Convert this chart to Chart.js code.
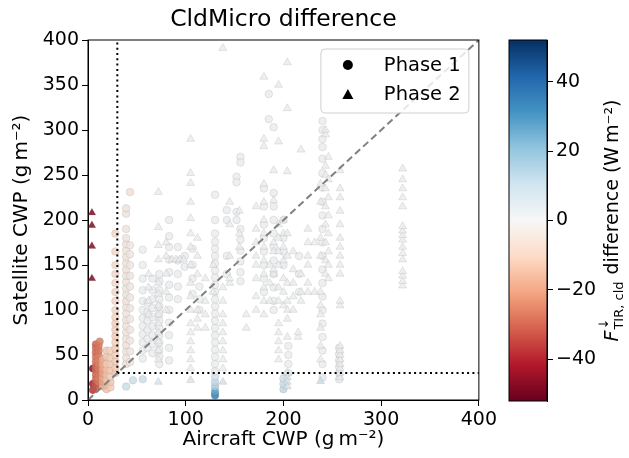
<!DOCTYPE html>
<html>
<head>
<meta charset="utf-8">
<script src="https://cdn.jsdelivr.net/npm/chart.js@4.4.1/dist/chart.umd.min.js"></script>
<style>
  body { margin: 0; background: #fff; }
  #wrap { position: relative; width: 629px; height: 458px; }
  canvas { position: absolute; top: 0; }
</style>
</head>
<body>
<div id="wrap">
  <canvas id="main" width="500" height="458" style="left:0"></canvas>
  <canvas id="cbar" width="139" height="458" style="left:490px"></canvas>
</div>
<script>
// [aircraft CWP, satellite CWP, flux difference]
const phase1 = [
  [5,35,-46],[5,18,-42],[5,11,-38],
  [8,13,-33],[8,18,-32],[8,23,-30],[8,28,-30],[8,33,-29],[8,38,-29],[8,43,-28],[8,48,-28],[8,53,-30],[8,58,-29],[8,62,-30],
  [11,20,-27],[11,25,-26],[11,30,-27],[11,35,-27],[11,40,-26],[11,45,-25],[11,50,-26],[11,55,-27],[11,60,-27],[12,65,-26],
  [15,15,-20],[15,20,-20],[15,25,-19],[15,30,-20],[15,35,-19],[15,40,-18],[15,45,-18],
  [19,12,-14],[19,17,-15],[19,22,-13],[19,28,-14],[19,34,-14],[19,40,-12],[19,48,-13],[19,55,-13],
  [23,14,-12],[23,20,-13],[23,26,-11],[23,33,-12],[23,40,-12],[23,47,-11],[23,55,-10],
  [28,30,-13],[28,36,-12],[28,43,-12],[28,50,-11],[28,57,-12],[28,64,-11],[28,71,-12],[28,78,-11],[28,85,-11],[28,92,-10],
  [28,100,-9],[28,110,-9],[28,120,-9],[28,130,-8],[28,140,-8],[28,150,-8],[28,165,-9],[28,185,-9],
  [39,15,10],[39,40,-5],[39,47,-5],[39,54,-4],[39,61,-5],[39,68,-4],[39,75,-5],[39,82,-4],[39,89,-5],[39,96,-4],[39,103,-4],
  [39,110,-5],[39,117,-4],[39,124,-4],[39,131,-4],[39,138,-4],[39,145,-5],[39,152,-4],[39,159,-5],[39,166,-4],[39,173,-4],
  [39,180,-4],[39,190,-4],[39,207,-4],[39,213,-4],
  [43,231,-5],[43,42,-3],[43,54,-3],[43,66,-3],[43,78,-3],[43,90,-3],[43,102,-3],[43,114,-3],[43,126,-3],[43,138,-3],[43,150,-3],[43,162,-3],[43,172,-3],
  [46,22,9],
  [56,23,9],[56,46,0.5],[56,55,0.5],[56,64,0.5],[56,73,0.5],[56,82,0.5],[56,91,0.5],[56,100,0.5],[56,110,0.5],[56,122,0.5],[56,135,0.5],[56,150,0.5],[56,167,0.5],
  [61,58,0.5],[61,68,0.5],[61,78,0.5],[61,88,0.5],[61,98,0.5],[61,108,0.5],
  [66,52,0.5],[66,62,0.5],[66,72,0.5],[66,82,0.5],[66,92,0.5],[66,102,0.5],[66,112,0.5],[66,122,0.5],[66,135,0.5],
  [73,40,0.5],[73,48,0.5],[73,56,0.5],[73,64,0.5],[73,72,0.5],[73,80,0.5],[73,88,0.5],[73,96,0.5],[73,104,0.5],[73,112,0.5],[73,122,0.5],[73,132,0.5],[73,140,0.5],
  [83,44,0.5],[83,58,0.5],[83,72,0.5],[83,86,0.5],[83,100,0.5],[83,114,0.5],[83,128,0.5],[83,142,0.5],[83,156,0.5],[83,170,0.5],[83,182,0.5],[83,200,0.5],
  [92,112,0.5],[92,126,0.5],[92,140,0.5],[92,155,0.5],[92,170,0.5],
  [99,148,0.5],[99,160,0.5],
  [107,118,0.5],[107,135,0.5],[107,150,0.5],[107,168,0.5],
  [114,100,0.5],[114,112,0.5],[114,126,0.5],
  [130,5,33],[130,7,30],[130,10,26],[130,15,16],[130,20,12],[130,26,8],[130,32,2],[130,40,0.5],[130,48,0.5],[130,56,0.5],[130,64,0.5],
  [130,72,0.5],[130,80,0.5],[130,88,0.5],[130,96,0.5],[130,104,0.5],[130,112,0.5],[130,120,0.5],[130,128,0.5],[130,136,0.5],[130,144,0.5],
  [130,152,0.5],[130,160,0.5],[130,168,0.5],[130,176,0.5],[130,185,0.5],[130,200,0.5],[130,228,0.5],
  [142,211,0.5],[142,200,0.5],[142,160,0.5],[142,140,0.5],
  [152,248,0.5],[152,242,0.5],[152,209,0.5],[152,200,0.5],
  [156,270,0.5],[156,264,0.5],[156,190,0.5],[156,178,0.5],[156,166,0.5],[156,154,0.5],[156,142,0.5],[156,132,0.5],
  [180,120,0.5],[180,135,0.5],[180,150,0.5],[180,165,0.5],[180,180,0.5],[180,195,0.5],[180,215,0.5],[180,235,0.5],
  [185,340,0.5],[185,312,0.5],
  [190,303,0.5],[190,230,0.5],[190,215,0.5],[190,200,0.5],[190,185,0.5],[190,170,0.5],[190,155,0.5],[190,140,0.5],[190,125,0.5],[190,110,0.5],[190,100,0.5],
  [200,12,12],[200,18,10],[200,24,8],[200,150,0.5],[200,165,0.5],[200,180,0.5],[200,200,0.5],
  [205,30,2],[205,40,0.5],[205,50,0.5],[205,60,0.5],
  [216,120,0.5],[216,140,0.5],[216,160,0.5],
  [240,310,0.5],[240,300,0.5],[240,290,0.5],[240,281,0.5],[240,268,0.5],[240,252,0.5],[240,236,0.5],[240,220,0.5],[240,205,0.5],[240,190,0.5],
  [240,175,0.5],[240,160,0.5],[240,145,0.5],[240,130,0.5],[240,115,0.5],[240,100,0.5],[240,85,0.5],[240,70,0.5],[240,55,0.5],[240,40,0.5],[240,25,2],
  [257,23,2],[257,30,0.5],[257,37,0.5],[257,44,0.5],[257,51,0.5],[257,58,0.5]
];

const phase2 = [
  [4,208,-48],[4,194,-48],[4,171,-47],[4,135,-48],
  [62,95,0.5],[62,110,0.5],[62,125,0.5],[62,140,0.5],
  [72,231,0.5],[72,192,0.5],[72,172,0.5],[72,156,0.5],[72,130,0.5],[72,118,0.5],[72,105,0.5],[72,95,0.5],[72,85,0.5],[72,75,0.5],[72,65,0.5],[72,55,0.5],[72,45,0.5],[72,20,6],
  [80,100,0.5],[80,120,0.5],[80,140,0.5],[80,160,0.5],[80,175,0.5],
  [86,156,0.5],[90,156,0.5],[94,156,0.5],[98,156,0.5],
  [105,290,0.5],[105,252,0.5],[105,241,0.5],[105,220,0.5],[105,202,0.5],[105,185,0.5],[105,170,0.5],[105,150,0.5],[105,130,0.5],[105,115,0.5],
  [105,100,0.5],[105,85,0.5],[105,75,0.5],[105,65,0.5],[105,55,0.5],[105,45,0.5],[105,35,0.5],[105,22,5],
  [112,80,0.5],[112,90,0.5],[112,100,0.5],[112,140,0.5],[112,160,0.5],[112,180,0.5],
  [120,80,0.5],[120,95,0.5],[120,110,0.5],[120,135,0.5],
  [128,120,0.5],[128,150,0.5],
  [138,391,0.5],[138,125,0.5],[138,110,0.5],[138,95,0.5],[138,85,0.5],[138,75,0.5],[138,65,0.5],[138,55,0.5],[138,45,0.5],[138,35,0.5],[138,20,7],
  [145,130,0.5],[145,135,0.5],[145,160,0.5],[145,195,0.5],[145,220,0.5],
  [155,170,0.5],[155,185,0.5],[155,210,0.5],
  [162,80,0.5],[162,95,0.5],
  [172,100,0.5],[172,115,0.5],[172,135,0.5],[172,150,0.5],[172,160,0.5],[172,175,0.5],[172,190,0.5],[172,215,0.5],
  [180,359,0.5],[180,290,0.5],[180,282,0.5],[180,240,0.5],[180,220,0.5],[180,200,0.5],[180,185,0.5],[180,170,0.5],[180,155,0.5],[180,140,0.5],[180,125,0.5],[180,110,0.5],[180,95,0.5],
  [186,110,0.5],[186,130,0.5],[186,150,0.5],
  [190,140,0.5],[190,145,0.5],[190,165,0.5],[190,175,0.5],[190,222,0.5],[190,255,0.5],
  [195,350,0.5],[195,287,0.5],[195,195,0.5],[195,180,0.5],[195,165,0.5],[195,150,0.5],[195,125,0.5],[195,110,0.5],[195,85,0.5],[195,75,0.5],[195,65,0.5],[195,55,0.5],[195,45,0.5],
  [200,105,0.5],[200,120,0.5],[200,135,0.5],[200,155,0.5],[200,170,0.5],[200,185,0.5],[200,200,0.5],
  [204,375,0.5],[204,324,0.5],[204,254,0.5],[204,185,0.5],[204,160,0.5],[204,130,0.5],[204,110,0.5],[204,100,0.5],[204,90,0.5],[204,70,0.5],[204,30,3],[204,25,5],[204,20,6],[204,15,7],
  [210,100,0.5],[210,115,0.5],[210,130,0.5],[210,145,0.5],[210,165,0.5],
  [215,70,0.5],[215,75,0.5],
  [218,110,0.5],[218,120,0.5],[218,140,0.5],[218,278,0.5],
  [225,120,0.5],[225,130,0.5],[225,150,0.5],[225,160,0.5],[225,175,0.5],[225,190,0.5],
  [232,120,0.5],[232,175,0.5],
  [238,21,10],[238,45,0.5],[238,60,0.5],[238,80,0.5],[238,95,0.5],[238,105,0.5],[238,120,0.5],[238,160,0.5],[238,180,0.5],[238,220,0.5],[238,240,0.5],
  [243,140,0.5],[243,155,0.5],[243,175,0.5],[243,195,0.5],[243,215,0.5],[243,235,0.5],[243,250,0.5],[243,260,0.5],[243,295,0.5],[243,300,0.5],
  [246,135,0.5],[246,150,0.5],[246,165,0.5],[246,185,0.5],[246,205,0.5],[246,225,0.5],[246,245,0.5],[246,270,0.5],
  [258,25,2],[258,30,0.5],[258,35,0.5],[258,40,0.5],[258,45,0.5],[258,50,0.5],[258,55,0.5],[258,60,0.5],[258,105,0.5],[258,110,0.5],
  [258,140,0.5],[258,150,0.5],[258,160,0.5],[258,170,0.5],[258,180,0.5],[258,195,0.5],[258,210,0.5],[258,225,0.5],[258,235,0.5],[258,255,0.5],
  [322,127,0.5],[322,132,0.5],[322,138,0.5],[322,143,0.5],[322,156,0.5],[322,163,0.5],[322,170,0.5],[322,178,0.5],[322,183,0.5],[322,188,0.5],
  [322,193,0.5],[322,215,0.5],[322,225,0.5],[322,235,0.5],[322,245,0.5],[322,257,0.5]
];

const oneToOne = [[0, 0], [400, 400]];
const thresholdH = [[30, 30], [400, 30]];
const thresholdV = [[30, 30], [30, 400]];

const xTicksStep = 100;
const yTicksStep = 50;
const cbMin = -52, cbMax = 52;
const cbTicks = [-40, -20, 0, 20, 40];

// RdBu colour map
const cmapStops = ['#67001f','#b2182b','#d6604d','#f4a582','#fddbc7','#f7f7f7','#d1e5f0','#92c5de','#4393c3','#2166ac','#053061'];

function hexRgb(h) {
  return [parseInt(h.slice(1,3),16), parseInt(h.slice(3,5),16), parseInt(h.slice(5,7),16)];
}
function cmapRgb(v) {
  let t = (v - cbMin) / (cbMax - cbMin);
  t = Math.max(0, Math.min(1, t)) * (cmapStops.length - 1);
  const i = Math.min(Math.floor(t), cmapStops.length - 2);
  const f = t - i;
  const c0 = hexRgb(cmapStops[i]), c1 = hexRgb(cmapStops[i + 1]);
  return c0.map((x, k) => Math.round(x + (c1[k] - x) * f));
}
// marker fill: colour map value, slightly shaded like the matplotlib markers
function markerFill(v) {
  const c = cmapRgb(v).map(x => Math.round(x * 0.96));
  return `rgba(${c[0]},${c[1]},${c[2]},0.85)`;
}

const FONT = 'DejaVu Sans';
const toXY = p => ({ x: p[0], y: p[1] });
const minus = v => v < 0 ? '\u2212' + Math.abs(v) : String(v);

const framePlugin = {
  id: 'frame',
  afterDraw(chart) {
    const { ctx, chartArea: a } = chart;
    ctx.save();
    ctx.strokeStyle = '#000';
    ctx.lineWidth = 1;
    ctx.strokeRect(a.left, a.top, a.right - a.left, a.bottom - a.top);

    // title
    ctx.fillStyle = '#000';
    ctx.font = `23.5px "${FONT}"`;
    ctx.textAlign = 'center';
    ctx.textBaseline = 'middle';
    ctx.fillText('CldMicro difference', (a.left + a.right) / 2, 20);

    // legend
    const bx = a.right - 158, by = a.top + 9, bw = 148, bh = 64;
    ctx.beginPath();
    ctx.roundRect(bx, by, bw, bh, 4);
    ctx.fillStyle = 'rgba(255,255,255,0.8)';
    ctx.fill();
    ctx.strokeStyle = '#d0d0d0';
    ctx.stroke();
    ctx.fillStyle = '#000';
    ctx.beginPath();
    ctx.arc(bx + 27, by + 16, 5, 0, Math.PI * 2);
    ctx.fill();
    ctx.beginPath();
    ctx.moveTo(bx + 27, by + 40);
    ctx.lineTo(bx + 32.5, by + 50);
    ctx.lineTo(bx + 21.5, by + 50);
    ctx.closePath();
    ctx.fill();
    ctx.font = `19.5px "${FONT}"`;
    ctx.textAlign = 'left';
    ctx.fillText('Phase 1', bx + 63, by + 17);
    ctx.fillText('Phase 2', bx + 63, by + 46);
    ctx.restore();
  }
};

new Chart(document.getElementById('main'), {
  type: 'scatter',
  data: {
    datasets: [
      {
        type: 'line', data: oneToOne.map(toXY), borderColor: '#808080', borderWidth: 2,
        borderDash: [7, 4], pointRadius: 0, order: 0
      },
      {
        type: 'line', data: thresholdH.map(toXY), borderColor: '#000', borderWidth: 2,
        borderDash: [2, 3.3], pointRadius: 0, order: 0
      },
      {
        type: 'line', data: thresholdV.map(toXY), borderColor: '#000', borderWidth: 2,
        borderDash: [2, 3.3], pointRadius: 0, order: 0
      },
      {
        label: 'Phase 2', data: phase2.map(toXY), pointStyle: 'triangle', pointRadius: 4.6,
        pointBackgroundColor: phase2.map(p => markerFill(p[2])),
        pointBorderColor: 'rgba(128,128,128,0.18)', pointBorderWidth: 1, order: 1
      },
      {
        label: 'Phase 1', data: phase1.map(toXY), pointStyle: 'circle', pointRadius: 3.8,
        pointBackgroundColor: phase1.map(p => markerFill(p[2])),
        pointBorderColor: 'rgba(128,128,128,0.18)', pointBorderWidth: 1, order: 2
      }
    ]
  },
  options: {
    responsive: false,
    animation: false,
    layout: { padding: { top: 40, right: 18, left: 0, bottom: 0 } },
    plugins: { legend: { display: false }, tooltip: { enabled: false } },
    scales: {
      x: {
        type: 'linear', min: 0, max: 400,
        ticks: { stepSize: xTicksStep, color: '#000', font: { family: FONT, size: 19 }, padding: 3, maxRotation: 0 },
        grid: { drawOnChartArea: false, tickLength: 6, color: '#000' },
        border: { color: '#000' },
        title: { display: true, text: 'Aircraft CWP (g\u2009m\u207B\u00B2)', color: '#000', font: { family: FONT, size: 20 }, padding: { top: 2, bottom: 6 } },
        afterFit(s) { s.height = 58; }
      },
      y: {
        type: 'linear', min: 0, max: 400,
        ticks: { stepSize: yTicksStep, color: '#000', font: { family: FONT, size: 19 }, padding: 3 },
        grid: { drawOnChartArea: false, tickLength: 6, color: '#000' },
        border: { color: '#000' },
        title: { display: true, text: 'Satellite CWP (g\u2009m\u207B\u00B2)', color: '#000', font: { family: FONT, size: 20 }, padding: { top: 10, bottom: 2 } },
        afterFit(s) { s.width = 88; }
      }
    }
  },
  plugins: [framePlugin]
});

const cbarPlugin = {
  id: 'cbarFrame',
  afterDraw(chart) {
    const { ctx, chartArea: a } = chart;
    ctx.save();
    ctx.strokeStyle = '#000';
    ctx.lineWidth = 1;
    ctx.strokeRect(a.left, a.top, a.right - a.left, a.bottom - a.top);

    // colour bar label, rotated
    ctx.translate(128, (a.top + a.bottom) / 2);
    ctx.rotate(-Math.PI / 2);
    ctx.fillStyle = '#000';
    ctx.textBaseline = 'alphabetic';
    const big = `19px "${FONT}"`, bigIt = `italic 19px "${FONT}"`, small = `13px "${FONT}"`;
    const rest = ' difference (W\u2009m\u207B\u00B2)';
    ctx.font = bigIt; const wF = ctx.measureText('F').width;
    ctx.font = small; const wSub = ctx.measureText('TIR, cld').width;
    ctx.font = big; const wRest = ctx.measureText(rest).width;
    let u = -(wF + wSub + 2 + wRest) / 2;
    ctx.font = bigIt; ctx.fillText('F', u, 0); u += wF + 1;
    ctx.font = small; ctx.fillText('\u2193', u, -10); ctx.fillText('TIR, cld', u, 5); u += wSub + 1;
    ctx.font = big; ctx.fillText(rest, u, 0);
    ctx.restore();
  }
};

new Chart(document.getElementById('cbar'), {
  type: 'bar',
  data: {
    labels: [''],
    datasets: [{
      data: [[cbMin, cbMax]],
      barPercentage: 1, categoryPercentage: 1, borderWidth: 0,
      backgroundColor(c) {
        const a = c.chart.chartArea;
        if (!a) return null;
        const g = c.chart.ctx.createLinearGradient(0, a.bottom, 0, a.top);
        cmapStops.forEach((col, i) => g.addColorStop(i / (cmapStops.length - 1), col));
        return g;
      }
    }]
  },
  options: {
    responsive: false,
    animation: false,
    layout: { padding: { top: 40, left: 19, right: 0, bottom: 57 } },
    plugins: { legend: { display: false }, tooltip: { enabled: false } },
    scales: {
      x: { display: false },
      y: {
        position: 'right', min: cbMin, max: cbMax,
        afterBuildTicks(s) { s.ticks = cbTicks.map(v => ({ value: v })); },
        ticks: { color: '#000', font: { family: FONT, size: 19 }, padding: 3, callback: v => minus(v) },
        grid: { drawOnChartArea: false, tickLength: 6, color: '#000' },
        border: { color: '#000' },
        afterFit(s) { s.width = 82; }
      }
    }
  },
  plugins: [cbarPlugin]
});
</script>
</body>
</html>
